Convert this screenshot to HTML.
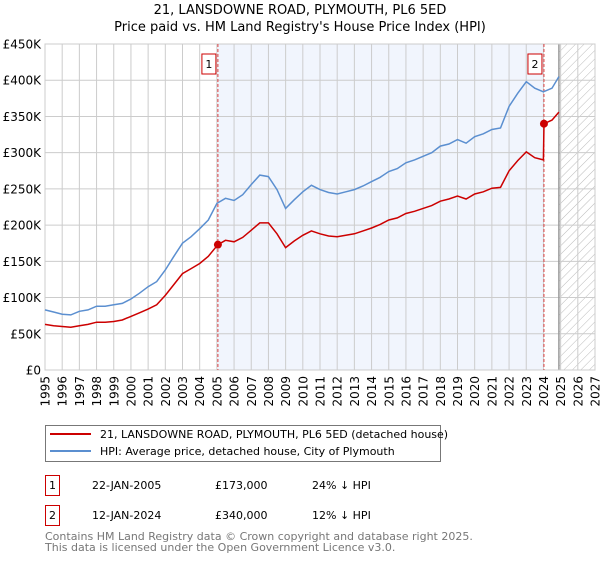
<!DOCTYPE html>
<html><head><meta charset="utf-8"><style>
body{margin:0;background:#fff;font-family:"DejaVu Sans","Liberation Sans",sans-serif;}
svg text{font-family:"DejaVu Sans","Liberation Sans",sans-serif;}
</style></head><body>
<svg id="chart" width="600" height="560" xmlns="http://www.w3.org/2000/svg">
<defs><pattern id="hatch" patternUnits="userSpaceOnUse" width="6" height="6" patternTransform="rotate(45)"><line x1="0" y1="0" x2="0" y2="6" stroke="#bbb" stroke-width="1"/></pattern></defs>
<text x="300" y="14" text-anchor="middle" font-size="13">21, LANSDOWNE ROAD, PLYMOUTH, PL6 5ED</text>
<text x="300" y="31" text-anchor="middle" font-size="13">Price paid vs. HM Land Registry's House Price Index (HPI)</text>
<g id="plot"></g>
<g>
<rect x="45.5" y="425.5" width="395" height="36" fill="#fff" stroke="#777"/>
<line x1="50" y1="434" x2="91" y2="434" stroke="#cc0000" stroke-width="2"/>
<text x="100" y="438" font-size="11">21, LANSDOWNE ROAD, PLYMOUTH, PL6 5ED (detached house)</text>
<line x1="50" y1="451" x2="91" y2="451" stroke="#5b8fd0" stroke-width="2"/>
<text x="100" y="455" font-size="11">HPI: Average price, detached house, City of Plymouth</text>
</g>
<g font-size="11">
<rect x="45.5" y="475.5" width="14" height="20" fill="#fff" stroke="#cc0000"/><text x="52.5" y="489" text-anchor="middle">1</text>
<text x="92" y="489">22-JAN-2005</text><text x="215" y="489">£173,000</text><text x="312" y="489">24% ↓ HPI</text>
<rect x="45.5" y="505.5" width="14" height="20" fill="#fff" stroke="#cc0000"/><text x="52.5" y="519" text-anchor="middle">2</text>
<text x="92" y="519">12-JAN-2024</text><text x="215" y="519">£340,000</text><text x="312" y="519">12% ↓ HPI</text>
</g>
<text x="45" y="540" font-size="11" fill="#777">Contains HM Land Registry data © Crown copyright and database right 2025.</text>
<text x="45" y="551" font-size="11" fill="#777">This data is licensed under the Open Government Licence v3.0.</text>
</svg>
<script>
const yearsHPI=[1995,1995.5,1996,1996.5,1997,1997.5,1998,1998.5,1999,1999.5,2000,2000.5,2001,2001.5,2002,2002.5,2003,2003.5,2004,2004.5,2005,2005.5,2006,2006.5,2007,2007.5,2008,2008.5,2009,2009.5,2010,2010.5,2011,2011.5,2012,2012.5,2013,2013.5,2014,2014.5,2015,2015.5,2016,2016.5,2017,2017.5,2018,2018.5,2019,2019.5,2020,2020.5,2021,2021.5,2022,2022.5,2023,2023.5,2024,2024.5,2024.9];
const hpiValues=[83,80,77,76,81,83,88,88,90,92,98,106,115,122,138,157,175,184,195,207,230,237,234,242,256,269,267,249,223,235,246,255,249,245,243,246,249,254,260,266,274,278,286,290,295,300,309,312,318,313,322,326,332,334,364,382,398,389,384,389,405];
const yearsPaid=[1995,1995.5,1996,1996.5,1997,1997.5,1998,1998.5,1999,1999.5,2000,2000.5,2001,2001.5,2002,2002.5,2003,2003.5,2004,2004.5,2005.06,2005.5,2006,2006.5,2007,2007.5,2008,2008.5,2009,2009.5,2010,2010.5,2011,2011.5,2012,2012.5,2013,2013.5,2014,2014.5,2015,2015.5,2016,2016.5,2017,2017.5,2018,2018.5,2019,2019.5,2020,2020.5,2021,2021.5,2022,2022.5,2023,2023.5,2024.0,2024.03,2024.5,2024.9];
const paidValues=[63,61,60,59,61,63,66,66,67,69,74,79,84,90,103,118,133,140,147,157,173,179,177,183,193,203,203,188,169,178,186,192,188,185,184,186,188,192,196,201,207,210,216,219,223,227,233,236,240,236,243,246,251,252,275,289,301,293,290,340,345,356];
const saleYears=[2005.06,2024.03];
const salePrices=[173,340];
const saleLabels=["1","2"];
const yTicks=[0,50,100,150,200,250,300,350,400,450];
const yTickLabels=["£0","£50K","£100K","£150K","£200K","£250K","£300K","£350K","£400K","£450K"];
const xTicks=[1995,1996,1997,1998,1999,2000,2001,2002,2003,2004,2005,2006,2007,2008,2009,2010,2011,2012,2013,2014,2015,2016,2017,2018,2019,2020,2021,2022,2023,2024,2025,2026,2027];

const L=45,R=595,T=44,B=370,X0=1995,X1=2027,YMAX=450,DATA_END=2024.9;
const sx=y=>L+(y-X0)/(X1-X0)*(R-L);
const sy=v=>B-v/YMAX*(B-T);
const NS="http://www.w3.org/2000/svg";
const g=document.getElementById('plot');
function mk(tag,attrs,parent){const e=document.createElementNS(NS,tag);for(const k in attrs)e.setAttribute(k,attrs[k]);(parent||g).appendChild(e);return e;}

let bg=mk('rect',{x:L,y:T,width:R-L,height:B-T,fill:'#fff'});


let sh=mk('rect',{x:sx(saleYears[0]),y:T,width:sx(saleYears[1])-sx(saleYears[0]),height:B-T,fill:'#eef3fc',opacity:0.8});


let ht=mk('rect',{x:sx(DATA_END),y:T,width:R-sx(DATA_END),height:B-T,fill:'url(#hatch)'});



xTicks.forEach(y=>{
  let l=mk('line',{x1:sx(y),x2:sx(y),y1:T,y2:B,stroke:'#ccc','stroke-width':1});
  
  
  let t=mk('text',{x:0,y:0,'font-size':12,'text-anchor':'end',transform:`translate(${sx(y)+4.5},${B+6}) rotate(-90)`});
  t.textContent=y;
  
  
});
yTicks.forEach((v,i)=>{
  let l=mk('line',{x1:L,x2:R,y1:sy(v),y2:sy(v),stroke:'#ccc','stroke-width':1});
  
  
  let t=mk('text',{x:L-4,y:sy(v)+4.5,'font-size':12,'text-anchor':'end'});
  t.textContent=yTickLabels[i];
  
  
});
let el=mk('line',{x1:sx(DATA_END),x2:sx(DATA_END),y1:T,y2:B,stroke:'#999','stroke-width':1.5});


let fr=mk('rect',{x:L,y:T,width:R-L,height:B-T,fill:'none',stroke:'#ccc'});



saleYears.forEach((y,i)=>{
  let l=mk('line',{x1:sx(y),x2:sx(y),y1:T,y2:B,stroke:'#dd4444','stroke-width':1,'stroke-dasharray':'3,2'});
  
  
  let bx=mk('rect',{x:sx(y)-16,y:T+10,width:14,height:20,fill:'#fff',stroke:'#cc0000'});
  
  
  let t=mk('text',{x:sx(y)-9,y:T+24,'font-size':11,'text-anchor':'middle'});
  t.textContent=saleLabels[i];
  
  
});

let hp=mk('path',{d:yearsHPI.map((y,i)=>(i?'L':'M')+sx(y).toFixed(1)+','+sy(hpiValues[i]).toFixed(1)).join(''),fill:'none',stroke:'#5b8fd0','stroke-width':1.5});


let pp=mk('path',{d:yearsPaid.map((y,i)=>(i?'L':'M')+sx(y).toFixed(1)+','+sy(paidValues[i]).toFixed(1)).join(''),fill:'none',stroke:'#cc0000','stroke-width':1.5});


saleYears.forEach((y,i)=>{
  let c=mk('circle',{cx:sx(y),cy:sy(salePrices[i]),r:4,fill:'#cc0000'});
  
  
});
</script>
</body></html>
